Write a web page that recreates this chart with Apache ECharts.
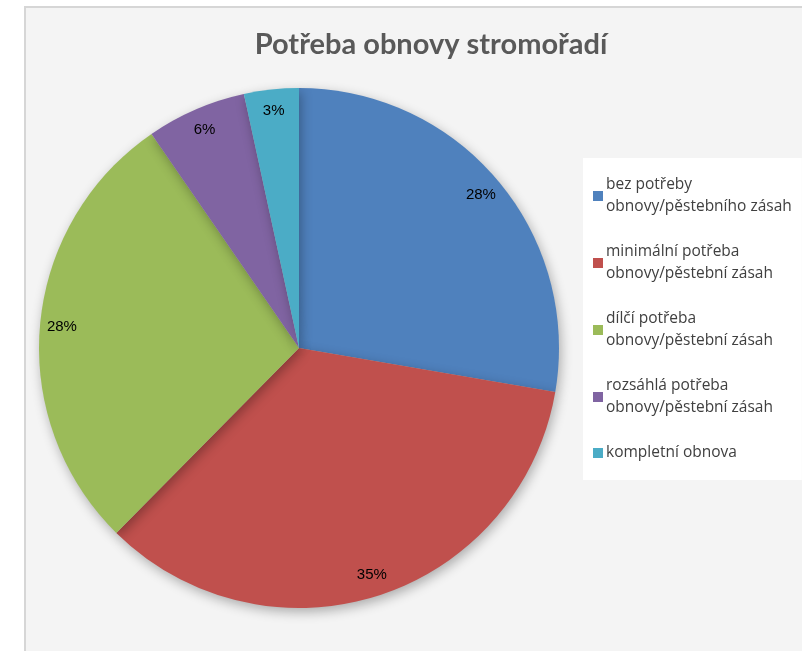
<!DOCTYPE html>
<html>
<head>
<meta charset="utf-8">
<script src="https://cdn.jsdelivr.net/npm/echarts@6/dist/echarts.min.js"></script>
<style>
  html, body { margin: 0; padding: 0; background: #fff; }
  #chart { width: 802px; height: 651px; }
</style>
</head>
<body>
<div id="chart"></div>
<script>
// data
const categories = [
  'bez potřeby\nobnovy/pěstebního zásah',
  'minimální potřeba\nobnovy/pěstební zásah',
  'dílčí potřeba\nobnovy/pěstební zásah',
  'rozsáhlá potřeba\nobnovy/pěstební zásah',
  'kompletní obnova'
]
const shares = [27.7, 34.7, 28.0, 6.2, 3.4]
const colors = ['#4F81BD', '#C0504D', '#9BBB59', '#8064A2', '#4BACC6']

const pieData = categories.map((name, i) => ({ name: name, value: shares[i] }))

const chart = echarts.init(document.getElementById('chart'))
const option = {
  animation: false,
  color: colors,
  graphic: [
    {
      type: 'rect',
      z: -10,
      shape: { x: 25, y: 7, width: 800, height: 660 },
      style: { fill: '#f4f4f4', stroke: '#d6d6d6', lineWidth: 2 }
    }
  ],
  title: {
    text: 'Potřeba obnovy stromořadí',
    left: 426,
    textAlign: 'center',
    top: 25,
    textStyle: {
      fontFamily: 'Lato, "Open Sans", sans-serif',
      fontWeight: 'bold',
      fontSize: 29,
      color: '#595959'
    }
  },
  legend: {
    orient: 'vertical',
    left: 583,
    top: 158,
    padding: [16, 10, 16, 10],
    backgroundColor: '#ffffff',
    itemWidth: 10,
    itemHeight: 10,
    itemGap: 23,
    icon: 'rect',
    data: categories,
    textStyle: {
      fontFamily: '"Open Sans", "DejaVu Sans", sans-serif',
      fontSize: 15.5,
      lineHeight: 22,
      color: '#404040',
      padding: [0, 0, 0, -2]
    }
  },
  series: [
    {
      type: 'pie',
      center: [299, 348],
      radius: 260,
      startAngle: 90,
      clockwise: true,
      data: pieData,
      label: { show: false },
      labelLine: { show: false },
      itemStyle: {
        shadowBlur: 12,
        shadowColor: 'rgba(0,0,0,0.3)',
        shadowOffsetX: 2,
        shadowOffsetY: 4
      }
    },
    {
      // transparent ring that only carries the percentage labels near the rim
      type: 'pie',
      center: [299, 348],
      radius: [205, 265],
      startAngle: 90,
      clockwise: true,
      silent: true,
      percentPrecision: 0,
      data: pieData,
      itemStyle: { color: 'rgba(0,0,0,0)' },
      labelLine: { show: false },
      label: {
        show: true,
        position: 'inside',
        formatter: '{d}%',
        fontFamily: '"Liberation Sans Narrow", "Liberation Sans", sans-serif',
        fontSize: 15,
        color: '#000'
      }
    }
  ]
}
chart.setOption(option)
window.addEventListener('resize', () => chart.resize(), false)
</script>
</body>
</html>
